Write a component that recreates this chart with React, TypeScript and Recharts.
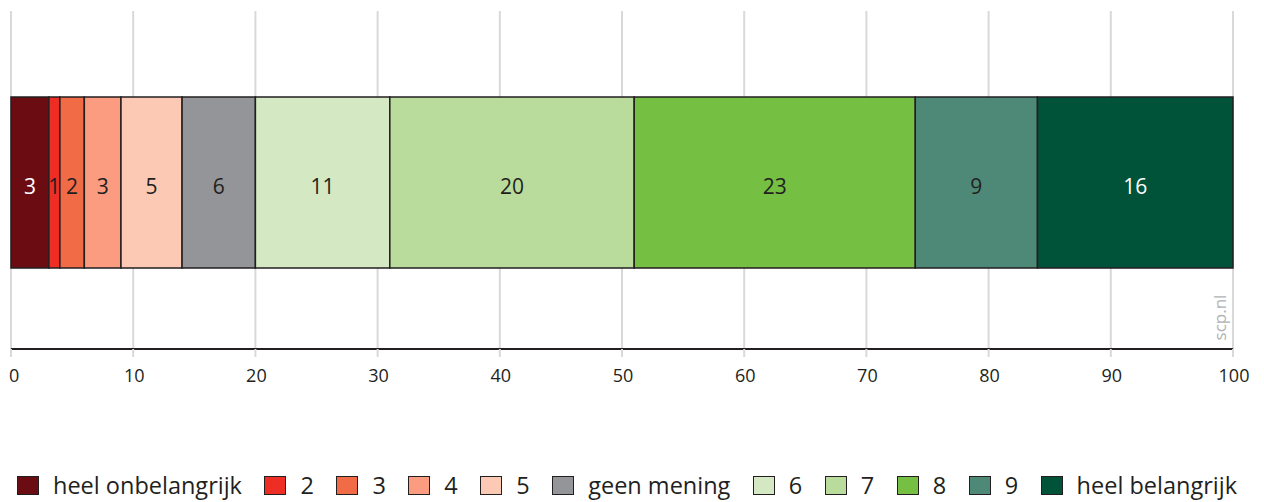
import React from 'react';
import { BarChart, Bar, XAxis, YAxis, CartesianGrid, LabelList, Legend } from 'recharts';

const categories = ['heel onbelangrijk', '2', '3', '4', '5', 'geen mening', '6', '7', '8', '9', 'heel belangrijk'];
const values = [3.1, 0.9, 2, 3, 5, 6, 11, 20, 23, 10, 16];
const valueLabels = ['3', '1', '2', '3', '5', '6', '11', '20', '23', '9', '16'];
const xTicks = [0, 10, 20, 30, 40, 50, 60, 70, 80, 90, 100];

const colors = ['#6b0c13', '#ee2d24', '#f26b47', '#fb9b80', '#fccab4', '#939598', '#d4e8c4', '#b9dc9c', '#75bf43', '#4e8977', '#005239'];
const labelColors = ['#ffffff', '#231f20', '#231f20', '#231f20', '#231f20', '#231f20', '#231f20', '#231f20', '#231f20', '#231f20', '#ffffff'];

const row: Record<string, number | string> = { name: 'totaal' };
values.forEach((v, i) => { row['s' + i] = v; });
const data = [row];

const FONT = '"Open Sans", sans-serif';
const DARK = '#231f20';

const LegendContent = () => (
  <div style={{ display: 'flex', alignItems: 'center', fontFamily: FONT, fontSize: 23.5, color: DARK, paddingLeft: 9, whiteSpace: 'nowrap', width: 1250 }}>
    {categories.map((c, i) => (
      <div key={c} style={{ display: 'flex', alignItems: 'center', marginRight: 22.5, flexShrink: 0 }}>
        <div style={{ width: 20, height: 17, background: colors[i], border: `1.5px solid ${DARK}`, marginRight: 14, flexShrink: 0 }} />
        <span style={{ lineHeight: '26px' }}>{c}</span>
      </div>
    ))}
  </div>
);

const Tick = (props: any) => {
  const { x, y, payload } = props;
  const isFirst = payload.value === 0;
  return (
    <text
      x={isFirst ? x - 2 : x + 1}
      y={y}
      dy="0.71em"
      textAnchor={isFirst ? 'start' : 'middle'}
      fill={DARK}
      fontSize={18}
      fontFamily={FONT}
    >
      {payload.value}
    </text>
  );
};

export default function App() {
  return (
    <div style={{ position: 'relative', width: 1248, height: 494 }}>
      <BarChart
        width={1248}
        height={494}
        data={data}
        layout="vertical"
        margin={{ top: 3, right: 23, bottom: 0, left: 3 }}
      >
        <CartesianGrid horizontal={false} stroke="#d9d9d9" strokeWidth={2} />
        <XAxis
          type="number"
          domain={[0, 100]}
          ticks={xTicks}
          height={123}
          tickSize={8}
          tickMargin={12}
          tickLine={{ stroke: '#d9d9d9', strokeWidth: 2 }}
          axisLine={{ stroke: DARK, strokeWidth: 2 }}
          tick={<Tick />}
          interval={0}
        />
        <XAxis
          xAxisId="top"
          orientation="top"
          type="number"
          domain={[0, 100]}
          height={0}
          tick={false}
          tickLine={false}
          axisLine={{ stroke: '#d9d9d9', strokeWidth: 2 }}
        />
        <YAxis type="category" dataKey="name" hide padding={{ top: 5, bottom: 0 }} />
        <Legend
          verticalAlign="bottom"
          align="left"
          height={30}
          wrapperStyle={{ left: 0, width: 1256 }}
          content={<LegendContent />}
        />
        {values.map((_, i) => (
          <Bar
            key={i}
            dataKey={'s' + i}
            stackId="a"
            fill={colors[i]}
            stroke={DARK}
            strokeWidth={1.5}
            barSize={171}
            isAnimationActive={false}
          >
            <LabelList
              dataKey={'s' + i}
              position="center"
              formatter={() => valueLabels[i]}
              fill={labelColors[i]}
              dy={4}
              style={{ fontSize: 21, fontFamily: FONT }}
            />
          </Bar>
        ))}
      </BarChart>
      <div
        style={{
          position: 'absolute',
          left: 1181,
          top: 298,
          width: 60,
          textAlign: 'center',
          transform: 'rotate(-90deg)',
          transformOrigin: 'center',
          fontFamily: FONT,
          fontSize: 17,
          color: '#b0b2b4',
        }}
      >
        scp.nl
      </div>
    </div>
  );
}
